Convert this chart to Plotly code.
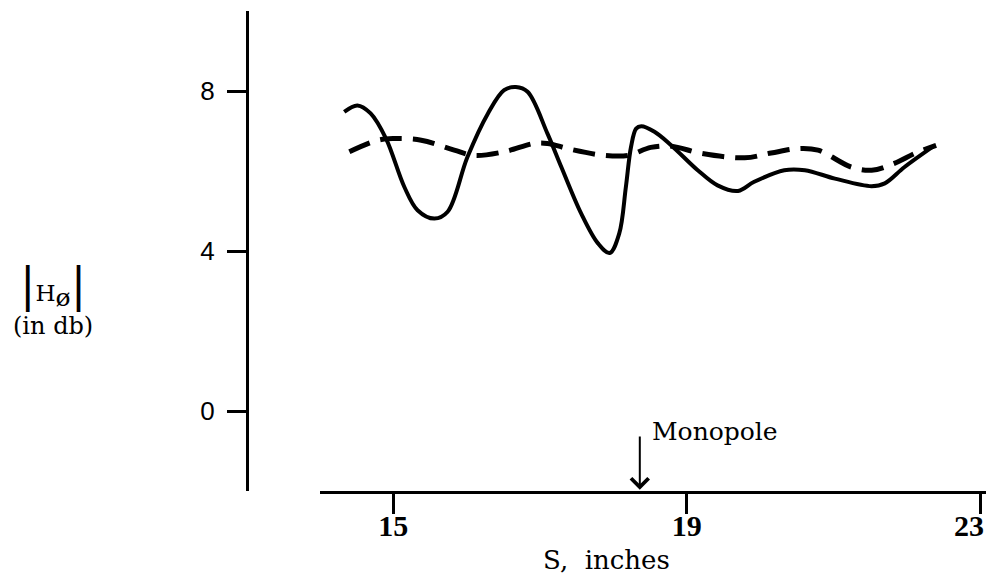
import plotly.graph_objects as go

# Measured |H_phi| (dB) versus spacing S (inches)
s_solid = [14.33, 14.51, 14.69, 14.90, 15.15, 15.33, 15.56, 15.74, 16.01, 16.29,
           16.51, 16.67, 16.83, 17.10, 17.29, 17.56, 17.79, 17.95, 18.08, 18.17,
           18.24, 18.31, 18.38, 18.56, 18.79, 19.15, 19.42, 19.70, 19.92, 20.33,
           20.61, 21.02, 21.52, 21.70, 21.97, 22.38]
h_solid = [7.48, 7.64, 7.44, 6.81, 5.60, 5.02, 4.81, 4.98, 6.35, 7.44,
           8.02, 8.10, 7.98, 6.94, 6.10, 4.94, 4.19, 3.95, 4.44, 5.60,
           6.60, 7.06, 7.12, 6.98, 6.64, 6.02, 5.64, 5.50, 5.73, 6.02,
           6.02, 5.81, 5.62, 5.69, 6.10, 6.64]

s_dashed = [14.40, 14.79, 15.01, 15.38, 15.83, 16.10, 16.51, 16.92, 17.10, 17.42,
            17.88, 18.20, 18.51, 18.79, 19.20, 19.79, 20.15, 20.52, 20.79, 21.24,
            21.52, 21.83, 22.11, 22.40]
h_dashed = [6.48, 6.77, 6.81, 6.77, 6.52, 6.39, 6.48, 6.69, 6.69, 6.54,
            6.39, 6.39, 6.59, 6.62, 6.44, 6.33, 6.45, 6.56, 6.52, 6.10,
            6.02, 6.19, 6.44, 6.64]

x_ticks = [15, 19, 23]
x_labels = ["15", "19", "23\u00a0\u00a0\u00a0"]  # last label padded to stay on the page
y_ticks = [0, 4, 8]
x_range = [14, 23.08]
y_range = [-2, 10]
monopole_s = 18.36

SERIF = "DejaVu Serif, Liberation Serif, serif"

fig = go.Figure()
fig.add_trace(go.Scatter(
    x=s_dashed, y=h_dashed, mode="lines",
    line=dict(color="black", width=5, dash="22px,11px", shape="spline", smoothing=1.0),
    hoverinfo="skip", showlegend=False))
fig.add_trace(go.Scatter(
    x=s_solid, y=h_solid, mode="lines",
    line=dict(color="black", width=4, shape="spline", smoothing=1.0),
    hoverinfo="skip", showlegend=False))

# monopole position marker
fig.add_annotation(x=monopole_s, y=y_range[0] + 0.03, xref="x", yref="y",
                   ax=monopole_s, ay=-0.6, axref="x", ayref="y",
                   showarrow=True, arrowhead=4, arrowsize=1.7, arrowwidth=2,
                   arrowcolor="black", text="")
fig.add_annotation(x=monopole_s, y=-0.52, xref="x", yref="y", xshift=10,
                   text="Monopole", showarrow=False, xanchor="left", yanchor="middle",
                   font=dict(family=SERIF, size=25, color="black"))

# axis titles
fig.add_annotation(x=17.91, y=-0.143, xref="x", yref="paper", text="S,  inches",
                   showarrow=False, xanchor="center", yanchor="middle",
                   font=dict(family=SERIF, size=26, color="black"))
fig.add_annotation(x=-0.262, y=0.43, xref="paper", yref="paper",
                   text="<span style='font-size:46px'>|</span>H<sub><span style='font-size:25px'>ø</span></sub><span style='font-size:46px'>|</span>",
                   showarrow=False, xanchor="center", yanchor="middle",
                   font=dict(family=SERIF, size=23, color="black"))
fig.add_annotation(x=-0.262, y=0.343, xref="paper", yref="paper", text="(in db)",
                   showarrow=False, xanchor="center", yanchor="middle",
                   font=dict(family=SERIF, size=24, color="black"))

# horizontal axis begins to the right of the vertical axis
fig.update_xaxes(domain=[0.0988, 1], range=x_range, tickmode="array", tickvals=x_ticks,
                 ticktext=x_labels,
                 ticks="outside", ticklen=20, tickwidth=3, tickcolor="black",
                 showline=True, linewidth=3, linecolor="black",
                 showgrid=False, zeroline=False, ticklabeloverflow="allow",
                 ticklabelstandoff=-14,
                 tickfont=dict(family="Liberation Serif, serif", size=30, color="black",
                               weight="bold"))
fig.update_yaxes(range=y_range, anchor="free", position=0,
                 tickmode="array", tickvals=y_ticks,
                 ticktext=[str(v) for v in y_ticks],
                 ticks="outside", ticklen=19, tickwidth=3, tickcolor="black",
                 showline=True, linewidth=3, linecolor="black",
                 showgrid=False, zeroline=False, ticklabelstandoff=7,
                 tickfont=dict(family="Liberation Sans, Arial, sans-serif", size=26, color="black"))

fig.update_layout(width=986, height=577,
                  margin=dict(l=247, r=0, t=11, b=86, autoexpand=False),
                  paper_bgcolor="white", plot_bgcolor="white")

fig.write_html("out.html")
